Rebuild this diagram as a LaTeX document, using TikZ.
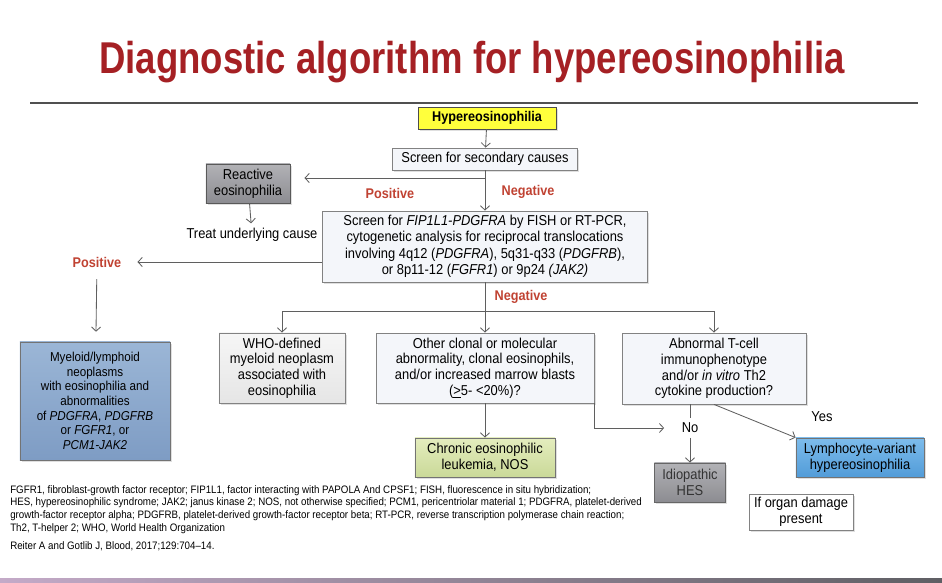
\documentclass[tikz,border=0pt]{standalone}
\usepackage{fontspec}
\setmainfont[FakeStretch=0.9]{Liberation Sans}
\newfontfamily\titlefont[FakeStretch=0.82]{Liberation Sans}
\usetikzlibrary{arrows.meta, positioning, shadows, calc}
\definecolor{titlered}{RGB}{165, 32, 36}
\definecolor{branchred}{RGB}{192, 66, 50}
\definecolor{linegray}{RGB}{95, 95, 95}
\definecolor{boxedge}{RGB}{130, 130, 130}
\definecolor{paleblue}{RGB}{244, 246, 250}
\definecolor{hyperyellow}{RGB}{255, 255, 60}
\definecolor{reacttop}{RGB}{178, 178, 182}
\definecolor{reactbot}{RGB}{140, 140, 145}
\definecolor{steeltop}{RGB}{155, 182, 214}
\definecolor{steelbot}{RGB}{126, 156, 196}
\definecolor{olivetop}{RGB}{228, 237, 190}
\definecolor{olivebot}{RGB}{202, 217, 152}
\definecolor{skytop}{RGB}{125, 188, 236}
\definecolor{skybot}{RGB}{82, 156, 216}
\definecolor{rulegray}{RGB}{80, 80, 80}

\begin{document}
\begin{tikzpicture}[
        x=0.025cm, y=-0.025cm,
        font=\fontsize{10.2}{11.2}\selectfont,
        box/.style={
            draw=boxedge,
            line width=0.6pt,
            align=center,
            inner sep=1pt,
            drop shadow={shadow xshift=1.2pt, shadow yshift=-1.2pt, opacity=0.25}
        },
        palebox/.style={box, fill=paleblue},
        flow/.style={
            -{Straight Barb[length=3pt, width=6.5pt]},
            draw=linegray,
            line width=0.6pt
        },
        link/.style={draw=linegray, line width=0.6pt},
        branchtext/.style={
            text=branchred,
            font=\bfseries\fontsize{10}{12}\selectfont
        },
        notetext/.style={
            font=\fontsize{7.7}{9}\selectfont,
            align=left,
            inner sep=0pt
        }
    ]
        \useasboundingbox (0,0) rectangle (942,583);
        \shade[left color={rgb,255:red,196;green,170;blue,200}, right color={rgb,255:red,95;green,95;blue,100}] (0,578) rectangle (942,583);

        \node[text=titlered, font=\titlefont\bfseries\fontsize{31.7}{36}\selectfont] (title) at (472,62) {Diagnostic algorithm for hypereosinophilia};
        \draw[rulegray, line width=1pt] (30,103) -- (918,103);

        \node[box, fill=hyperyellow, draw=black!70, font=\bfseries\fontsize{10}{12}\selectfont, minimum width=3.45cm, minimum height=0.55cm] (hyper) at (487,118) {Hypereosinophilia};
        \node[palebox, minimum width=4.625cm, minimum height=0.55cm] (secondary) at (485,159) {Screen for secondary causes};
        \node[box, draw=black!65, top color=reacttop, bottom color=reactbot, minimum width=2.1cm, minimum height=0.975cm] (reactive) at (248,183.5) {Reactive\\eosinophilia};
        \node (treat) at (252,235) {Treat underlying cause};
        \node[palebox, font=\fontsize{10.2}{11.7}\selectfont, minimum width=8.125cm, minimum height=1.775cm] (fish) at (485,246.5) {Screen for \textit{FIP1L1-PDGFRA} by FISH or RT-PCR,\\cytogenetic analysis for reciprocal translocations\\involving 4q12 (\textit{PDGFRA}), 5q31-q33 (\textit{PDGFRB}),\\or 8p11-12 (\textit{FGFR1}) or 9p24 \textit{(JAK2)}};

        \node[branchtext] (pos1) at (390,193) {Positive};
        \node[branchtext] (neg1) at (528,192) {Negative};
        \node[branchtext] (pos2) at (97,262) {Positive};
        \node[branchtext] (neg2) at (521,297) {Negative};

        \node[box, draw=black!55, top color=steeltop, bottom color=steelbot, font=\fontsize{9.2}{10.4}\selectfont, minimum width=3.75cm, minimum height=2.95cm] (myeloid) at (95,401) {Myeloid/lymphoid\\neoplasms\\with eosinophilia and\\abnormalities\\of \textit{PDGFRA}, \textit{PDGFRB}\\or \textit{FGFR1}, or\\\textit{PCM1-JAK2}};
        \node[box, top color=gray!7, bottom color=gray!20, minimum width=3.15cm, minimum height=1.75cm] (who) at (282,368) {WHO-defined\\myeloid neoplasm\\associated with\\eosinophilia};
        \node[palebox, minimum width=5.45cm, minimum height=1.75cm] (other) at (485,368) {Other clonal or molecular\\abnormality, clonal eosinophils,\\and/or increased marrow blasts\\(\underline{>}5- <20\%)?};
        \node[palebox, minimum width=4.6cm, minimum height=1.775cm] (tcell) at (714,368.5) {Abnormal T-cell\\immunophenotype\\and/or \textit{in vitro} Th2\\cytokine production?};

        \node[box, draw=black!55, top color=olivetop, bottom color=olivebot, minimum width=3.5cm, minimum height=0.975cm] (chronic) at (485,457.5) {Chronic eosinophilic\\leukemia, NOS};
        \node[box, draw=black!60, text=black!80, top color=reacttop, bottom color=reactbot, minimum width=1.775cm, minimum height=0.975cm] (idio) at (690,482.5) {Idiopathic\\HES};
        \node[box, draw=black!55, top color=skytop, bottom color=skybot, minimum width=3.2cm, minimum height=0.975cm] (lympho) at (860,457.5) {Lymphocyte-variant\\hypereosinophilia};
        \node[box, fill=white, minimum width=2.6cm, minimum height=0.9cm] (organ) at (801,512) {If organ damage\\present};
        \node (no) at (690,428) {No};
        \node (yes) at (822,417) {Yes};

        \coordinate (fork1) at (485,178);
        \coordinate (fork2) at (485,311);
        \draw[flow] (hyper) -- (secondary);
        \draw[link] (secondary) -- (fork1);
        \draw[flow] (fork1) -- (fish);
        \draw[flow, shorten >=10pt] (fork1) -- (fork1 -| reactive.east);
        \draw[flow] (reactive) -- (treat);
        \draw[flow, shorten >=8pt] (pos2 -| fish.west) -- (pos2.east);
        \draw[flow, shorten <=5pt, shorten >=7pt] (pos2) -- (myeloid);
        \draw[link] (fish) -- (fork2);
        \draw[flow] (fork2) -| (who);
        \draw[flow] (fork2) -- (other);
        \draw[flow] (fork2) -| (tcell);
        \draw[flow] (other) -- (chronic);
        \draw[flow, shorten >=9pt] (other.south east) |- (no.west);
        \draw[link] (no |- tcell.south) -- (no);
        \draw[flow] (no) -- (idio);
        \draw[flow] (tcell.south) -- (lympho.north west);

        \node[notetext, anchor=north west] (abbrev) at (10,485) {FGFR1, fibroblast-growth factor receptor; FIP1L1, factor interacting with PAPOLA And CPSF1; FISH, fluorescence in situ hybridization;\\HES, hypereosinophilic syndrome; JAK2; janus kinase 2; NOS, not otherwise specified; PCM1, pericentriolar material 1; PDGFRA, platelet-derived\\growth-factor receptor alpha; PDGFRB, platelet-derived growth-factor receptor beta; RT-PCR, reverse transcription polymerase chain reaction;\\Th2, T-helper 2; WHO, World Health Organization};
        \node[notetext, anchor=west] (source) at (10,546) {Reiter A and Gotlib J, Blood, 2017;129:704--14.};
    \end{tikzpicture}
\end{document}
